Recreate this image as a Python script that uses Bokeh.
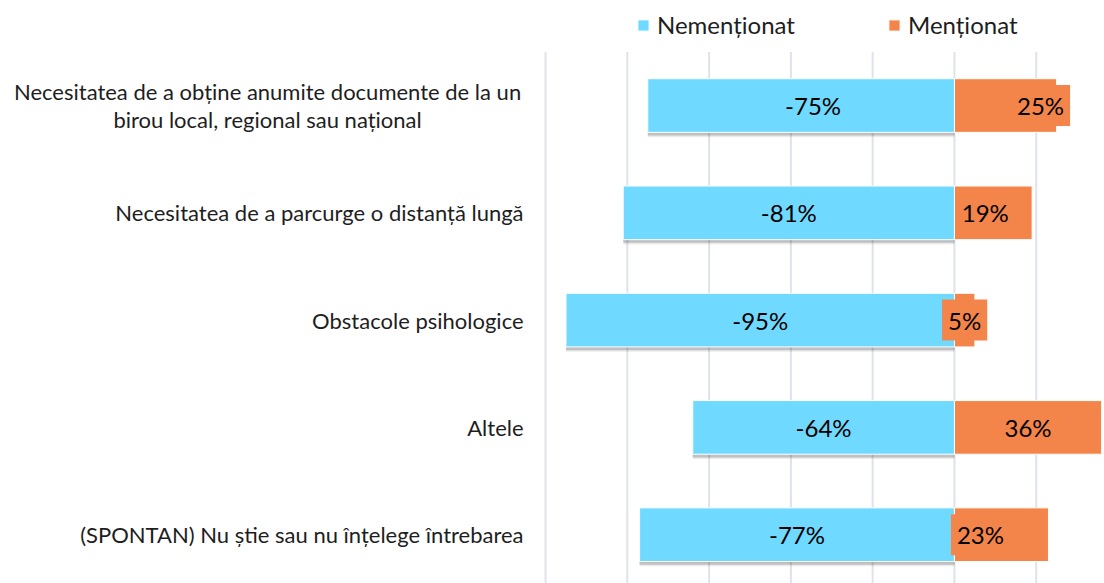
from bokeh.plotting import figure
from bokeh.models import ColumnDataSource, Range1d, Legend, LegendItem
from bokeh.core.properties import value
from bokeh.embed import file_html
from bokeh.resources import INLINE

categories = [
    "Necesitatea de a obține anumite documente de la un\nbirou local, regional sau național",
    "Necesitatea de a parcurge o distanță lungă",
    "Obstacole psihologice",
    "Altele",
    "(SPONTAN) Nu știe sau nu înțelege întrebarea",
]
nementionat = [-75, -81, -95, -64, -77]
mentionat = [25, 19, 5, 36, 23]
series_names = ["Nemenționat", "Menționat"]
x_ticks = [-100, -80, -60, -40, -20, 0, 20, 40]

# styles
BLUE = "#70D9FF"
ORANGE = "#F4854A"
TEXT = "#1E1E1E"
FONT = "Lato"
neg_nudge = [12, 0, 0, 0, 0]      # px
pos_nudge = [35, -8, 0, 0, -21]   # px

n = len(categories)
ys = [n - 1 - i for i in range(n)]

src = ColumnDataSource(dict(
    y=ys,
    ys=[y - 0.03 for y in ys],
    ys2=[y - 0.045 for y in ys],
    neg=nementionat,
    pos=mentionat,
    neg_mid=[v / 2 for v in nementionat],
    pos_mid=[v / 2 for v in mentionat],
    neg_txt=[f"{v}%" for v in nementionat],
    pos_txt=[f"{v}%" for v in mentionat],
    neg_off=neg_nudge,
    pos_off=pos_nudge,
))

Y_TOP = n - 0.5
p = figure(width=1104, height=583, output_backend="svg", toolbar_location=None,
           x_range=Range1d(-233.3, 36.7), y_range=Range1d(-0.455, n - 1 + 0.979),
           x_axis_location=None, y_axis_location=None,
           min_border_left=0, min_border_right=0, min_border_top=0, min_border_bottom=0)
p.outline_line_color = None
p.background_fill_color = "white"
p.xgrid.visible = False
p.ygrid.visible = False

# grid lines (only through the bar area)
p.segment(x0=x_ticks, x1=x_ticks, y0=[-0.455] * len(x_ticks), y1=[Y_TOP] * len(x_ticks),
          line_color="#DEE2EA", line_width=2)

# soft shadow under the blue bars
p.hbar(y="ys2", left="neg", right=0, height=0.5, source=src,
       fill_color="#000000", fill_alpha=0.08, line_color=None)
p.hbar(y="ys", left="neg", right=0, height=0.5, source=src,
       fill_color="#000000", fill_alpha=0.18, line_color=None)
r_blue = p.hbar(y="y", left="neg", right=0, height=0.5, source=src,
                fill_color=BLUE, line_color="white", line_width=1)
r_orange = p.hbar(y="y", left=0, right="pos", height=0.5, source=src,
                  fill_color=ORANGE, line_color="white", line_width=1)

p.text(x="neg_mid", y="y", text="neg_txt", x_offset="neg_off", source=src,
       text_font=value(FONT), text_font_size="24px", text_color="black",
       text_align="center", text_baseline="middle")
p.text(x="pos_mid", y="y", text="pos_txt", x_offset="pos_off", source=src,
       text_font=value(FONT), text_font_size="24px", text_color="black",
       text_align="center", text_baseline="middle",
       background_fill_color=ORANGE, padding=6)

# category labels
for cat, y in zip(categories, ys):
    if "\n" in cat:
        p.text(x=[x_ticks[0]], y=[y], text=[cat], x_offset=-278, text_align="center",
               text_baseline="middle", text_font=value(FONT), text_font_size="22px",
               text_color=TEXT, text_line_height=1.05)
    else:
        p.text(x=[x_ticks[0]], y=[y], text=[cat], x_offset=-22, text_align="right",
               text_baseline="middle", text_font=value(FONT), text_font_size="22px",
               text_color=TEXT)

legend = Legend(items=[LegendItem(label=series_names[0], renderers=[r_blue]),
                       LegendItem(label=series_names[1], renderers=[r_orange])],
                orientation="horizontal", location=(636, 544),
                glyph_width=14, glyph_height=14, label_standoff=7, spacing=92,
                padding=0, margin=0, border_line_color=None, background_fill_alpha=0,
                label_text_font=FONT, label_text_font_size="24px", label_text_color=TEXT)
p.add_layout(legend, "center")

open("out.html", "w").write(file_html(p, INLINE))
